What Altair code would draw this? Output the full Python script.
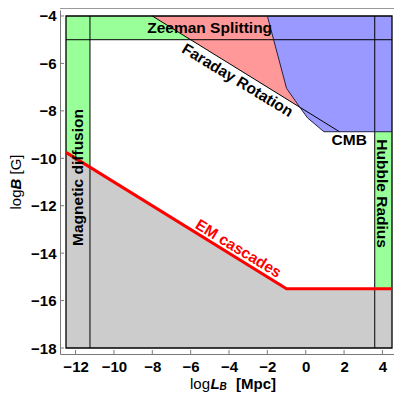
import altair as alt
import pandas as pd

FONT = "Liberation Sans"

# ---- data ----
x_ticks = list(range(-12, 5, 2))
y_ticks = list(range(-18, -3, 2))

frame_x = [-12.5, 4.5]
frame_y = [-18.0, -4.0]
diff_x = [-12.5, -11.25]      # magnetic diffusion band
hubble_x = [3.6, 4.5]         # Hubble radius band
zeeman_y = [-5.0, -4.0]       # Zeeman splitting band

em_x = [-12.5, -1.0, 4.5]     # EM cascades bound
em_y = [-9.75, -15.5, -15.5]

faraday_x = [-8.0, 1.76]      # Faraday rotation bound
faraday_y = [-4.0, -8.88]

cmb_x = [-2.0, -1.0, -0.35, 0.1, 0.95, 4.5]   # CMB bound
cmb_y = [-4.0, -7.05, -7.8, -8.3, -8.88, -8.88]

label_text = ["Zeeman Splitting", "Faraday Rotation", "CMB",
              "Magnetic diffusion", "Hubble Radius", "EM cascades"]
label_x = [-5.01, -3.555, 2.27, -11.86, 4.0, -3.51]
label_y = [-4.52, -6.71, -9.21, -10.81, -11.49, -13.81]
label_angle = [0, 31.3, 0, 270, 90, 31.3]
label_color = ["black", "black", "black", "black", "black", "#ff0000"]

GREEN = "#99ff99"
RED = "#ff9999"
BLUE = "#9999ff"
GRAY = "#cccccc"
AXC = "#7a7a7a"

W, H = 334, 344
xs = alt.Scale(domain=[-12.813, 4.604], nice=False, zero=False)
ys = alt.Scale(domain=[-18.253, -3.747], nice=False, zero=False)

xaxis = alt.Axis(values=x_ticks, title=None, grid=False, ticks=False,
                 domainColor=AXC, labelFont=FONT, labelFontWeight="bold",
                 labelFontSize=15, labelColor="black", labelPadding=5,
                 labelFlush=False)
yaxis = alt.Axis(values=y_ticks, title=None, grid=False, ticks=False,
                 domainColor=AXC, labelFont=FONT, labelFontWeight="bold",
                 labelFontSize=15, labelColor="black", labelPadding=4,
                 labelFlush=False)


def X(f):
    return alt.X(f, type="quantitative", scale=xs, axis=xaxis)


def Y(f):
    return alt.Y(f, type="quantitative", scale=ys, axis=yaxis)


bands = pd.DataFrame({
    "x": [diff_x[0], hubble_x[0], frame_x[0]],
    "x2": [diff_x[1], hubble_x[1], frame_x[1]],
    "y": [frame_y[0], frame_y[0], zeeman_y[0]],
    "y2": [frame_y[1], frame_y[1], zeeman_y[1]],
})
green = alt.Chart(bands).mark_rect(color=GREEN).encode(
    x=X("x"), x2="x2", y=Y("y"), y2="y2")

em_df = pd.DataFrame({"x": em_x, "y": em_y, "y2": [frame_y[0]] * len(em_x)})
gray = alt.Chart(em_df).mark_area(color=GRAY, orient="vertical").encode(
    x=X("x"), y=Y("y"), y2="y2")

far_df = pd.DataFrame({"x": faraday_x, "y": faraday_y,
                       "y2": [frame_y[1]] * len(faraday_x)})
red = alt.Chart(far_df).mark_area(color=RED, orient="vertical").encode(
    x=X("x"), y=Y("y"), y2="y2")

cmb_df = pd.DataFrame({"x": cmb_x, "y": cmb_y, "y2": [frame_y[1]] * len(cmb_x)})
blue = alt.Chart(cmb_df).mark_area(color=BLUE, orient="vertical").encode(
    x=X("x"), y=Y("y"), y2="y2")

frame_df = pd.DataFrame({"x": [frame_x[0]], "x2": [frame_x[1]],
                         "y": [frame_y[0]], "y2": [frame_y[1]]})
frame = alt.Chart(frame_df).mark_rect(filled=False, stroke="black",
                                      strokeWidth=1.3).encode(
    x=X("x"), x2="x2", y=Y("y"), y2="y2")

vlines_df = pd.DataFrame({"x": [diff_x[1], hubble_x[0]],
                          "y": [frame_y[0]] * 2, "y2": [frame_y[1]] * 2})
vlines = alt.Chart(vlines_df).mark_rule(color="black", strokeWidth=1).encode(
    x=X("x"), y=Y("y"), y2="y2")

hline_df = pd.DataFrame({"x": [frame_x[0]], "x2": [frame_x[1]], "y": [zeeman_y[0]]})
hline = alt.Chart(hline_df).mark_rule(color="black", strokeWidth=1).encode(
    x=X("x"), x2="x2", y=Y("y"))

far_line = alt.Chart(far_df).mark_line(color="black", strokeWidth=1).encode(
    x=X("x"), y=Y("y"))
cmb_line = alt.Chart(cmb_df).mark_line(color="#222244", strokeWidth=1).encode(
    x=X("x"), y=Y("y"))
em_line = alt.Chart(em_df).mark_line(color="#ff0000", strokeWidth=3).encode(
    x=X("x"), y=Y("y"))

# inward frame ticks
xt = alt.Chart(pd.DataFrame({"x": x_ticks})).mark_rule(color=AXC).encode(
    x=X("x"), y=alt.value(H), y2=alt.value(H - 4))
yt = alt.Chart(pd.DataFrame({"y": y_ticks})).mark_rule(color=AXC).encode(
    y=Y("y"), x=alt.value(0), x2=alt.value(4))
topline = alt.Chart(alt.Data(values=[{}])).mark_rule(
    color=AXC, strokeWidth=1.5).encode(
    x=alt.value(0), x2=alt.value(W), y=alt.value(-2))

texts = []
for t, lx, ly, ang, col in zip(label_text, label_x, label_y, label_angle, label_color):
    d = pd.DataFrame({"x": [lx], "y": [ly], "t": [t]})
    texts.append(alt.Chart(d).mark_text(
        font=FONT, fontWeight="bold", fontSize=15.5, color=col,
        angle=ang, align="center", baseline="middle").encode(
        x=X("x"), y=Y("y"), text="t:N"))


def seg(txt, x, y, size=15, weight="normal", style="normal", angle=0, align="left"):
    return alt.Chart(alt.Data(values=[{}])).mark_text(
        text=txt, font=FONT, fontSize=size, fontWeight=weight, fontStyle=style,
        color="black", angle=angle, align=align, baseline="alphabetic").encode(
        x=alt.value(x), y=alt.value(y))


# x-axis title  log L_B [Mpc]
xb = 378.5
xtitle = [
    seg("log", 130, xb),
    seg("L", 150.5, xb, weight="bold", style="italic"),
    seg("B", 159.5, xb + 1.5, size=10, weight="bold", style="italic"),
    seg("[Mpc]", 176, xb, weight="bold"),
]
# y-axis title  log B [G]  (rotated)
yx = -39
ytitle = [
    seg("log", yx, 199.5, angle=270),
    seg("B", yx, 179.5, weight="bold", style="italic", angle=270),
    seg("[G]", yx, 164.5, angle=270),
]

chart = alt.layer(
    green, gray, red, blue, frame, vlines, hline,
    far_line, cmb_line, em_line, xt, yt, topline,
    *texts, *xtitle, *ytitle
).properties(
    width=W, height=H,
    autosize=alt.AutoSizeParams(type="none"),
    padding={"left": 52, "top": 2, "right": 0, "bottom": 38},
).configure_view(stroke=None)

chart.save("out.html", embed_options={"renderer": "svg", "actions": False})
